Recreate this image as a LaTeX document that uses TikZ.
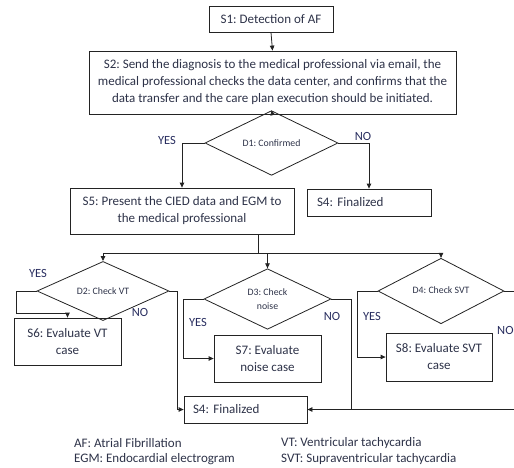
\documentclass[tikz,border=0pt]{standalone}
\usepackage{fontspec}
\setmainfont{Carlito}
\frenchspacing
\usetikzlibrary{shapes.geometric,arrows.meta}
\definecolor{txt}{RGB}{45,50,72}
\definecolor{lbl}{RGB}{40,45,95}
\definecolor{ln}{RGB}{35,35,35}
\tikzset{
  box/.style={draw=ln, line width=0.8pt, rectangle, inner sep=0pt, align=center, text=txt, font=\fontsize{13}{17}\selectfont},
  dia/.style={draw=ln, line width=0.8pt, diamond, inner sep=0pt, align=center, text=txt, font=\fontsize{9.8}{14}\selectfont},
  conn/.style={draw=ln, line width=0.8pt},
  arr/.style={conn, -{Triangle[length=5pt,width=4.5pt]}},
  yn/.style={text=lbl, font=\fontsize{12.5}{14}\selectfont, inner sep=0pt},
  leg/.style={text=txt, font=\fontsize{13}{15}\selectfont, inner sep=0pt, anchor=west},
}
\begin{document}
\begin{tikzpicture}[x=1pt,y=-1pt]
\useasboundingbox (0,0) rectangle (514,467);
\clip (0,0) rectangle (514,467);
% boxes
\node[box, minimum width=124pt, minimum height=26pt] (s1) at (271,19) {S1: Detection of AF};
\node[box, minimum width=367pt, minimum height=63pt] (s2) at (272.5,82.5) {S2: Send the diagnosis to the medical professional via email, the\\medical professional checks the data center, and confirms that the\\data transfer and the care plan execution should be initiated.};
\node[dia, minimum width=133pt, minimum height=35pt] (d1) at (271.5,143) {D1: Confirmed};
\node[box, minimum width=224pt, minimum height=46pt] (s5) at (182,211) {S5: Present the CIED data and EGM to\\the medical professional};
\node[box, minimum width=124pt, minimum height=27pt, text width=104pt, inner xsep=10pt, align=left] (s4a) at (369,202.5) {S4: Finalized};
\node[dia, minimum width=132pt, minimum height=36pt] (d2) at (103,291) {D2: Check VT};
\node[dia, minimum width=127pt, minimum height=52pt] (d3) at (267.5,299) {D3: Check\\noise};
\node[dia, minimum width=126pt, minimum height=37pt] (d4) at (441,291) {\raisebox{2pt}{D4: Check SVT}};
\node[box, minimum width=107pt, minimum height=47pt] (s6) at (67.5,341.5) {S6: Evaluate VT\\case};
\node[box, minimum width=107pt, minimum height=47pt] (s7) at (267.5,358.5) {S7: Evaluate\\noise case};
\node[box, minimum width=106pt, minimum height=48pt] (s8) at (439,357) {S8: Evaluate SVT\\case};
\node[box, minimum width=123pt, minimum height=27pt, text width=105pt, inner xsep=9pt, align=left] (s4b) at (245.5,409.5) {S4: Finalized};
% helper coordinates
\coordinate (br) at (258,253);
\coordinate (y2) at (16,313);
\coordinate (n2) at (177,291);
\coordinate (y3) at (183,299);
\coordinate (n3) at (351,299);
\coordinate (y4) at (357,291);
\coordinate (n4) at (520,291);
% connectors
\draw[arr] (s1.south) -- (s2.north);
\draw[arr] (s2.south) -- (d1.north);
\draw[arr] (d1.west) -| (s5.north);
\draw[arr] (d1.east) -| (s4a.north);
\draw[conn] (s5.south -| br) -- (br);
\draw[arr] (br) -| (d2.north);
\draw[arr] (br) -| (d4.north);
\draw[arr] (br -| d3.north) -- (d3.north);
\draw[arr] (d2.west) -| (y2) -- (y2 -| s6.north) -- (s6.north);
\draw[arr] (d2.east) -- (n2) -- (n2 |- s4b.west) -- (s4b.west);
\draw[arr] (d3.west) -- (y3) -- (y3 |- s7.west) -- (s7.west);
\draw[conn] (d3.east) -- (n3) -- (n3 |- s4b.east);
\draw[arr] (d4.west) -- (y4) -- (y4 |- s8.west) -- (s8.west);
\draw[arr] (d4.east) -- (n4) -- (n4 |- s4b.east) -- (s4b.east);
% yes / no labels
\node[yn] (l1) at (167,140) {YES};
\node[yn] (l2) at (363,136) {NO};
\node[yn] (l3) at (38,273) {YES};
\node[yn] (l4) at (140,312) {NO};
\node[yn] (l5) at (198,322) {YES};
\node[yn] (l6) at (332,316) {NO};
\node[yn] (l7) at (372,316) {YES};
\node[yn, anchor=west] (l8) at (497,330) {NO};
% legend
\node[leg] (g1) at (74,443) {AF: Atrial Fibrillation};
\node[leg] (g2) at (74,459) {EGM: Endocardial electrogram};
\node[leg] (g3) at (281,443) {VT: Ventricular tachycardia};
\node[leg] (g4) at (281,459) {SVT: Supraventricular tachycardia};
\end{tikzpicture}
\end{document}
